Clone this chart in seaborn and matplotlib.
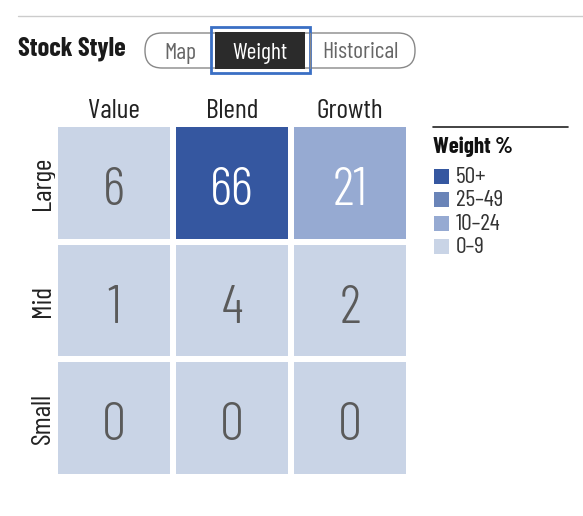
import numpy as np
import pandas as pd
import matplotlib
matplotlib.use("Agg")
import matplotlib.pyplot as plt
import seaborn as sns
from matplotlib.colors import ListedColormap, BoundaryNorm
from matplotlib.patches import FancyBboxPatch, Rectangle

# data
styles = ["Value", "Blend", "Growth"]
sizes = ["Large", "Mid", "Small"]
weights = [[6, 66, 21],
           [1, 4, 2],
           [0, 0, 0]]
legend_labels = ["50+", "25–49", "10–24", "0–9"]
bin_edges = [0, 10, 25, 50, 101]
bin_colors = ["#c9d4e6", "#96aad2", "#6a84b8", "#3557a0"]
tabs = ["Map", "Weight", "Historical"]

sns.set_style("white")
plt.rcParams['font.family'] = ['Barlow Condensed', 'DejaVu Sans']

df = pd.DataFrame(weights, index=sizes, columns=styles)

fig = plt.figure(figsize=(5.83, 5.16), dpi=100)
W, H = 583, 516

# overlay in pixel coords for header / legend
ov = fig.add_axes([0, 0, 1, 1])
ov.set_xlim(0, W)
ov.set_ylim(H, 0)
ov.axis("off")

# heatmap
ax = fig.add_axes([55 / W, 1 - 477 / H, 354 / W, 353 / H])
cmap = ListedColormap(bin_colors)
norm = BoundaryNorm(bin_edges, cmap.N)
sns.heatmap(df, cmap=cmap, norm=norm, annot=True, fmt="d", cbar=False,
            linewidths=4, linecolor="white", ax=ax,
            annot_kws={"fontsize": 39, "fontweight": 300})
for t, v in zip(ax.texts, np.array(weights).ravel()):
    t.set_color("white" if v >= 10 else "#5a5a5a")
    x, y = t.get_position()
    t.set_position((x, y + 0.075))
ax.xaxis.tick_top()
ax.tick_params(length=0, pad=1)
ax.set_xticklabels(styles, fontsize=20, color="#222222")
ax.set_yticklabels(sizes, fontsize=20, rotation=90, va="center", color="#222222")
ax.tick_params(axis="y", pad=0)
ax.set_xlabel("")
ax.set_ylabel("")

# header
ov.plot([18, 583], [16, 16], color="#cccccc", lw=1)
ov.text(18, 49, "Stock Style", fontsize=19, fontweight="bold", va="center",
        color="#1a1a1a")
ov.add_patch(FancyBboxPatch((145, 33), 270, 35,
                            boxstyle="round,pad=0,rounding_size=17",
                            fc="white", ec="#888888", lw=1))
ov.add_patch(Rectangle((215, 32), 90, 37, fc="#2b2b2b", ec="none"))
ov.plot([310, 310], [33, 68], color="#888888", lw=1)
ov.add_patch(Rectangle((211, 27), 99, 46, fc="none", ec="#3a6fc4", lw=2))
for label, x in zip(tabs, [180, 260, 360]):
    ov.text(x, 53, label, fontsize=17, ha="center", va="center",
            color="white" if label == "Weight" else "#666666")

# legend
ov.plot([433, 568], [127, 127], color="#222222", lw=1.2)
ov.text(433, 147, "Weight %", fontsize=16.5, fontweight="bold", va="center",
        color="#111111")
for i, (lab, col) in enumerate(zip(legend_labels, bin_colors[::-1])):
    y = 176 + i * 23.3
    ov.add_patch(Rectangle((434, y - 7), 15, 15, fc=col, ec="none"))
    ov.text(456, y + 1.5, lab, fontsize=17, va="center", color="#333333")

fig.savefig("out.png", dpi=100)
